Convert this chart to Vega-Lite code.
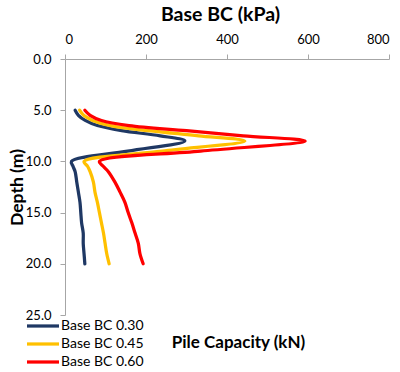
{
  "$schema": "https://vega.github.io/schema/vega-lite/v6.json",
  "autosize": "none",
  "width": 324,
  "height": 256,
  "padding": {"left": 65, "top": 59, "right": 11, "bottom": 57},
  "background": "white",
  "config": {
    "view": {"stroke": null},
    "font": "Lato",
    "axis": {"grid": false, "domainColor": "#A6A6A6", "tickColor": "#A6A6A6", "labelColor": "#000000", "titleColor": "#000000", "labelFontSize": 13, "titleFontWeight": "bold"}
  },
  "data": {
    "values": [
      {"series": "Base BC 0.30", "depth": 5, "value": 25},
      {"series": "Base BC 0.30", "depth": 5.5, "value": 33},
      {"series": "Base BC 0.30", "depth": 6, "value": 50},
      {"series": "Base BC 0.30", "depth": 6.5, "value": 80},
      {"series": "Base BC 0.30", "depth": 7, "value": 140},
      {"series": "Base BC 0.30", "depth": 7.5, "value": 235},
      {"series": "Base BC 0.30", "depth": 8, "value": 296},
      {"series": "Base BC 0.30", "depth": 9, "value": 155},
      {"series": "Base BC 0.30", "depth": 10, "value": 16},
      {"series": "Base BC 0.30", "depth": 10.5, "value": 20},
      {"series": "Base BC 0.30", "depth": 11, "value": 25},
      {"series": "Base BC 0.30", "depth": 12, "value": 29},
      {"series": "Base BC 0.30", "depth": 13, "value": 33},
      {"series": "Base BC 0.30", "depth": 14, "value": 37},
      {"series": "Base BC 0.30", "depth": 15, "value": 39},
      {"series": "Base BC 0.30", "depth": 16, "value": 41},
      {"series": "Base BC 0.30", "depth": 17, "value": 45},
      {"series": "Base BC 0.30", "depth": 18, "value": 45},
      {"series": "Base BC 0.30", "depth": 19, "value": 47},
      {"series": "Base BC 0.30", "depth": 20, "value": 49},
      {"series": "Base BC 0.45", "depth": 5, "value": 36},
      {"series": "Base BC 0.45", "depth": 5.5, "value": 46},
      {"series": "Base BC 0.45", "depth": 6, "value": 68},
      {"series": "Base BC 0.45", "depth": 6.5, "value": 112},
      {"series": "Base BC 0.45", "depth": 7, "value": 205},
      {"series": "Base BC 0.45", "depth": 7.5, "value": 330},
      {"series": "Base BC 0.45", "depth": 8, "value": 444},
      {"series": "Base BC 0.45", "depth": 9, "value": 240},
      {"series": "Base BC 0.45", "depth": 10, "value": 47},
      {"series": "Base BC 0.45", "depth": 10.5, "value": 56},
      {"series": "Base BC 0.45", "depth": 11, "value": 62},
      {"series": "Base BC 0.45", "depth": 12, "value": 70},
      {"series": "Base BC 0.45", "depth": 13, "value": 74},
      {"series": "Base BC 0.45", "depth": 14, "value": 80},
      {"series": "Base BC 0.45", "depth": 15, "value": 85},
      {"series": "Base BC 0.45", "depth": 16, "value": 90},
      {"series": "Base BC 0.45", "depth": 17, "value": 95},
      {"series": "Base BC 0.45", "depth": 18, "value": 99},
      {"series": "Base BC 0.45", "depth": 19, "value": 103},
      {"series": "Base BC 0.45", "depth": 20, "value": 109},
      {"series": "Base BC 0.60", "depth": 5, "value": 49},
      {"series": "Base BC 0.60", "depth": 5.5, "value": 62},
      {"series": "Base BC 0.60", "depth": 6, "value": 90},
      {"series": "Base BC 0.60", "depth": 6.5, "value": 158},
      {"series": "Base BC 0.60", "depth": 7, "value": 300},
      {"series": "Base BC 0.60", "depth": 7.5, "value": 440},
      {"series": "Base BC 0.60", "depth": 8, "value": 593},
      {"series": "Base BC 0.60", "depth": 9, "value": 335},
      {"series": "Base BC 0.60", "depth": 10, "value": 85},
      {"series": "Base BC 0.60", "depth": 10.5, "value": 95},
      {"series": "Base BC 0.60", "depth": 11, "value": 107},
      {"series": "Base BC 0.60", "depth": 12, "value": 123},
      {"series": "Base BC 0.60", "depth": 13, "value": 136},
      {"series": "Base BC 0.60", "depth": 14, "value": 148},
      {"series": "Base BC 0.60", "depth": 15, "value": 156},
      {"series": "Base BC 0.60", "depth": 16, "value": 165},
      {"series": "Base BC 0.60", "depth": 17, "value": 173},
      {"series": "Base BC 0.60", "depth": 18, "value": 181},
      {"series": "Base BC 0.60", "depth": 19, "value": 185},
      {"series": "Base BC 0.60", "depth": 20, "value": 193}
    ]
  },
  "encoding": {
    "y": {
      "field": "depth", "type": "quantitative",
      "scale": {"domain": [0, 25], "reverse": true, "nice": false, "zero": false},
      "axis": {"values": [0, 5, 10, 15, 20, 25], "format": ".1f", "tickSize": 5, "labelPadding": 9, "labelFontSize": 13, "title": "Depth (m)", "titleFontSize": 17.5, "titleX": -48, "titleY": 128, "titleBaseline": "middle", "titleAngle": -90}
    }
  },
  "layer": [
    {
      "mark": {"type": "line", "interpolate": "catmull-rom", "strokeWidth": 3.25, "strokeCap": "round"},
      "encoding": {
        "x": {
          "field": "value", "type": "quantitative",
          "scale": {"domain": [0, 800], "nice": false},
          "axis": {"orient": "top", "values": [0, 200, 400, 600, 800], "tickSize": 5, "labelPadding": 8, "title": "Base BC (kPa)", "titleFontSize": 19.5, "titleX": 155, "titleY": -45, "titleBaseline": "middle"}
        },
        "color": {
          "field": "series", "type": "nominal",
          "scale": {"domain": ["Base BC 0.30", "Base BC 0.45", "Base BC 0.60"], "range": ["#1F3864", "#FFC000", "#FF0000"]},
          "legend": {"orient": "none", "legendX": -40, "legendY": 257, "title": null, "symbolType": "M-1,0H3", "symbolSize": 256, "symbolStrokeWidth": 3.25, "labelFontSize": 14, "labelOffset": 16, "rowPadding": 1, "labelColor": "#000000"}
        },
        "order": {"field": "depth", "type": "quantitative"}
      }
    },
    {
      "mark": {"type": "line", "opacity": 0},
      "encoding": {
        "x": {
          "field": "value", "type": "quantitative",
          "scale": {"domain": [0, 800], "nice": false},
          "axis": {"orient": "bottom", "domain": false, "ticks": false, "labels": false, "title": "Pile Capacity (kN)", "titleFontSize": 17, "titleX": 173, "titleY": 27, "titleBaseline": "middle"}
        },
        "detail": {"field": "series", "type": "nominal"},
        "order": {"field": "depth", "type": "quantitative"}
      }
    }
  ],
  "resolve": {"axis": {"x": "independent"}}
}
